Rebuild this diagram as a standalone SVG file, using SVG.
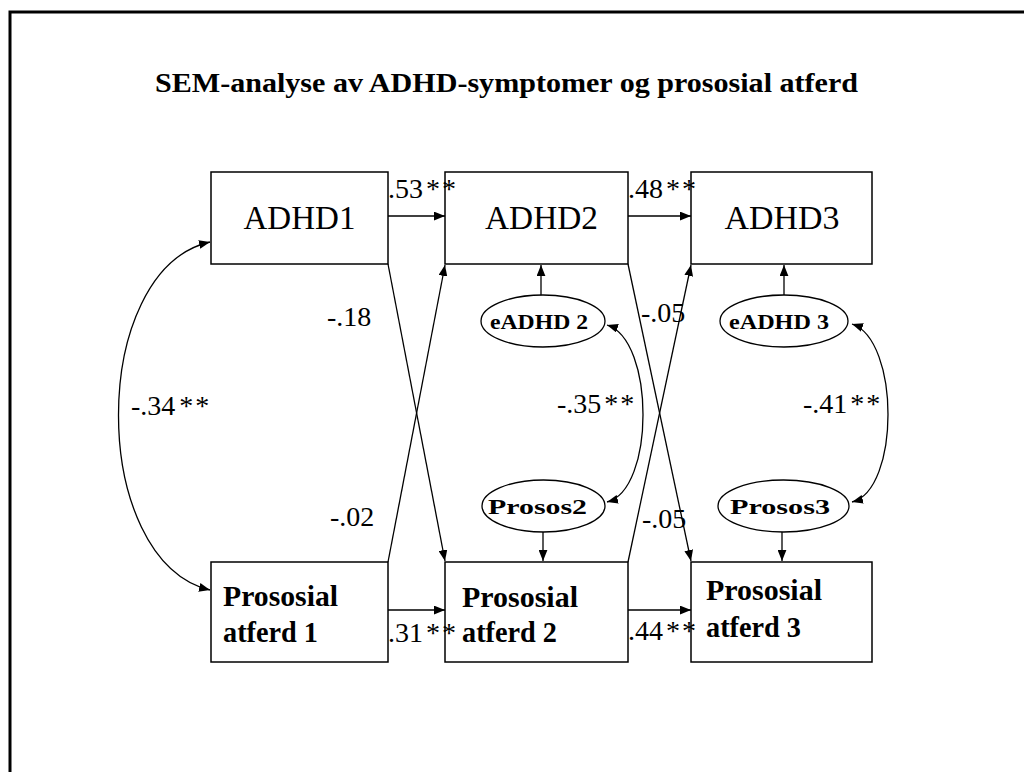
<svg xmlns="http://www.w3.org/2000/svg" width="1024" height="772" viewBox="0 0 1024 772">
<style>
.box{fill:#fff;stroke:#000;stroke-width:1.5}
.ell{fill:#fff;stroke:#000;stroke-width:1.3}
.e{fill:none;stroke:#000;stroke-width:1.3}
.t{font-family:'Liberation Serif','Times New Roman',Tinos,'DejaVu Serif',serif;fill:#000}
.n{font-size:33px;text-anchor:middle}
.b{font-weight:bold;font-size:29px}
.s{font-weight:bold;font-size:22px;text-anchor:middle}
.l{font-size:28px}
.st{letter-spacing:2px}
</style>
<defs>
<marker id="ah" markerUnits="userSpaceOnUse" viewBox="0 0 10 8" refX="10" refY="4" markerWidth="11" markerHeight="9" orient="auto-start-reverse"><path d="M0,0L10,4L0,8z" fill="#000"/></marker>
</defs>
<rect width="1024" height="772" fill="#fff"/>
<path d="M10,772 V12 H1024" fill="none" stroke="#000" stroke-width="3"/>
<text class="t" x="155" y="92" font-weight="bold" font-size="28" textLength="703" lengthAdjust="spacingAndGlyphs">SEM-analyse av ADHD-symptomer og prososial atferd</text>

<g id="connectors">
<line class="e" x1="388" y1="216" x2="445" y2="216" marker-end="url(#ah)"/>
<line class="e" x1="628" y1="216" x2="691" y2="216" marker-end="url(#ah)"/>
<line class="e" x1="388" y1="610" x2="445" y2="610" marker-end="url(#ah)"/>
<line class="e" x1="628" y1="610" x2="691" y2="610" marker-end="url(#ah)"/>
<line class="e" x1="541" y1="296" x2="541" y2="265" marker-end="url(#ah)"/>
<line class="e" x1="784" y1="296" x2="784" y2="265" marker-end="url(#ah)"/>
<line class="e" x1="543" y1="532" x2="543" y2="561" marker-end="url(#ah)"/>
<line class="e" x1="782" y1="532" x2="782" y2="561" marker-end="url(#ah)"/>
<line class="e" x1="388" y1="264" x2="445" y2="561" marker-end="url(#ah)"/>
<line class="e" x1="388" y1="562" x2="445" y2="265" marker-end="url(#ah)"/>
<line class="e" x1="628" y1="264" x2="691" y2="561" marker-end="url(#ah)"/>
<line class="e" x1="628" y1="562" x2="691" y2="265" marker-end="url(#ah)"/>
<path class="e" d="M210,242 C88,270 88,560 210,590" marker-start="url(#ah)" marker-end="url(#ah)"/>
<path class="e" d="M607,325 C655,340 655,490 607,502" marker-start="url(#ah)" marker-end="url(#ah)"/>
<path class="e" d="M852,324 C900,340 900,490 852,502" marker-start="url(#ah)" marker-end="url(#ah)"/>
</g>

<g id="ADHD1"><rect class="box" x="211" y="172" width="177" height="92"/><text class="t n" x="299.5" y="229" textLength="112" lengthAdjust="spacingAndGlyphs">ADHD1</text></g>
<g id="ADHD2"><rect class="box" x="445" y="172" width="183" height="92"/><text class="t n" x="541.5" y="229" textLength="113" lengthAdjust="spacingAndGlyphs">ADHD2</text></g>
<g id="ADHD3"><rect class="box" x="691" y="172" width="181" height="92"/><text class="t n" x="782" y="229" textLength="115" lengthAdjust="spacingAndGlyphs">ADHD3</text></g>
<g id="Prososial1"><rect class="box" x="211" y="562" width="177" height="100"/><text class="t b" x="223" y="606" textLength="115" lengthAdjust="spacingAndGlyphs">Prososial</text><text class="t b" x="223" y="642" textLength="95" lengthAdjust="spacingAndGlyphs">atferd 1</text></g>
<g id="Prososial2"><rect class="box" x="445" y="562" width="183" height="100"/><text class="t b" x="462" y="607" textLength="116" lengthAdjust="spacingAndGlyphs">Prososial</text><text class="t b" x="462" y="642" textLength="95" lengthAdjust="spacingAndGlyphs">atferd 2</text></g>
<g id="Prososial3"><rect class="box" x="691" y="562" width="181" height="100"/><text class="t b" x="706" y="600" textLength="116" lengthAdjust="spacingAndGlyphs">Prososial</text><text class="t b" x="706" y="637" textLength="95" lengthAdjust="spacingAndGlyphs">atferd 3</text></g>
<g id="eADHD2"><ellipse class="ell" cx="543" cy="321" rx="62" ry="26"/><text class="t s" x="539" y="329" textLength="98" lengthAdjust="spacingAndGlyphs">eADHD 2</text></g>
<g id="eADHD3"><ellipse class="ell" cx="784" cy="321" rx="64" ry="26"/><text class="t s" x="779" y="329" textLength="100" lengthAdjust="spacingAndGlyphs">eADHD 3</text></g>
<g id="Prosos2"><ellipse class="ell" cx="543.5" cy="506" rx="61.5" ry="26"/><text class="t s" x="537.5" y="514" font-size="25" textLength="99" lengthAdjust="spacingAndGlyphs">Prosos2</text></g>
<g id="Prosos3"><ellipse class="ell" cx="783.5" cy="506" rx="65.5" ry="26"/><text class="t s" x="780" y="514" font-size="25" textLength="100" lengthAdjust="spacingAndGlyphs">Prosos3</text></g>

<g id="labels">
<text class="t l" x="388" y="198">.53<tspan class="st" dx="3">**</tspan></text>
<text class="t l" x="628" y="198">.48<tspan class="st" dx="3">**</tspan></text>
<text class="t l" x="327" y="326">-.18</text>
<text class="t l" x="131" y="415">-.34<tspan class="st" dx="4">**</tspan></text>
<text class="t l" x="330" y="526">-.02</text>
<text class="t l" x="388" y="642">.31<tspan class="st" dx="3">**</tspan></text>
<text class="t l" x="628" y="640">.44<tspan class="st" dx="3">**</tspan></text>
<text class="t l" x="641" y="322">-.05</text>
<text class="t l" x="642" y="528">-.05</text>
<text class="t l" x="557" y="413">-.35<tspan class="st" dx="3">**</tspan></text>
<text class="t l" x="803" y="413">-.41<tspan class="st" dx="3">**</tspan></text>
</g>
</svg>
